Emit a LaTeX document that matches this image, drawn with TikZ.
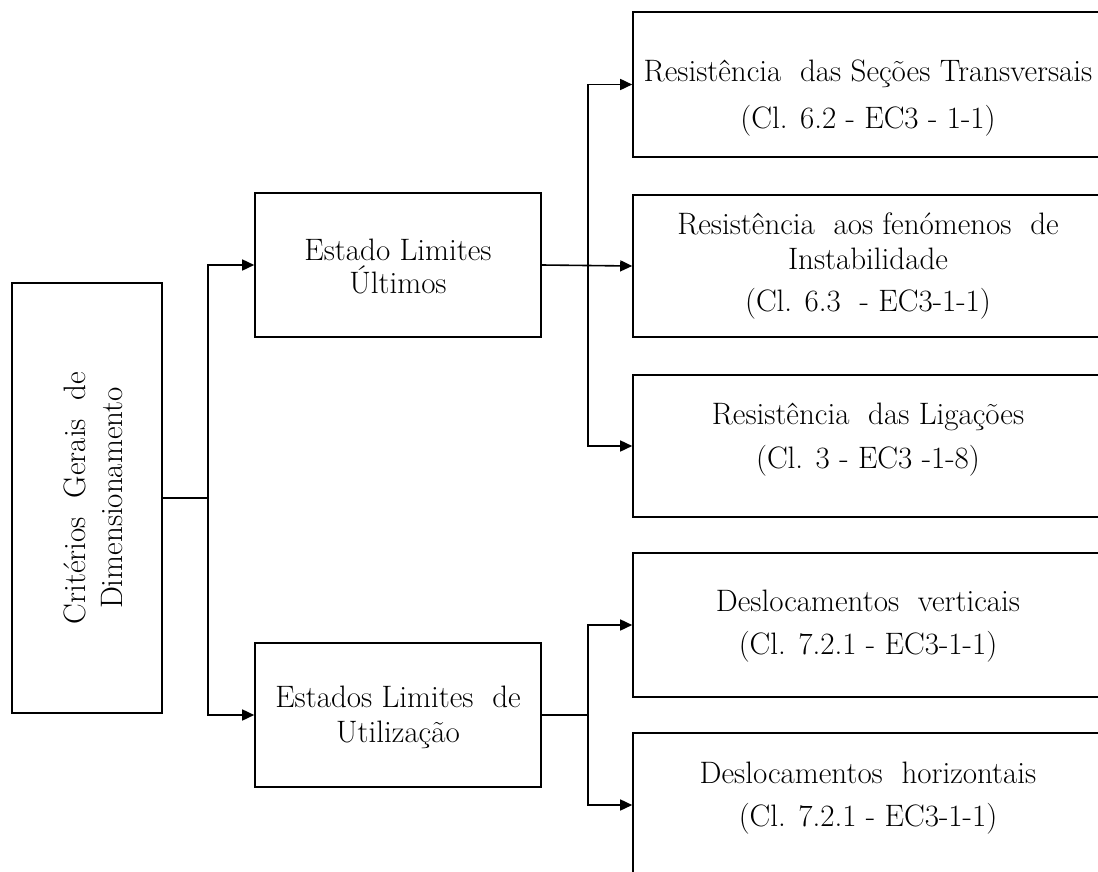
\documentclass[tikz,border=0pt]{standalone}
\usetikzlibrary{arrows.meta}
\begin{document}
\begin{tikzpicture}[x=1pt,y=-1pt,
  box/.style={draw,line width=1.6pt,rectangle,inner sep=0pt},
  txt/.style={align=center,font=\fontsize{31}{36}\selectfont,inner sep=0pt},
  link/.style={line width=1.6pt},
  arr/.style={link,-{Triangle[length=12pt,width=11pt]}}]
\useasboundingbox (0,0) rectangle (1098,872);
\clip (0,0) rectangle (1098,872);

% main boxes
\node[box,minimum width=150pt,minimum height=430pt] (crit) at (87,498) {};
\node[box,minimum width=286pt,minimum height=144pt] (elu) at (398,265) {};
\node[box,minimum width=286pt,minimum height=144pt] (els) at (398,715) {};
% right column of verification boxes
\node[box,minimum width=470pt,minimum height=145pt] (r1) at (868,84.5) {};
\node[box,minimum width=470pt,minimum height=142pt] (r2) at (868,266) {};
\node[box,minimum width=470pt,minimum height=142pt] (r3) at (868,446) {};
\node[box,minimum width=470pt,minimum height=144pt] (r4) at (868,625) {};
\node[box,minimum width=470pt,minimum height=144pt] (r5) at (868,805) {};

% texts
\node[txt,rotate=90] (tcrit) at (93,498) {Critérios\ \ Gerais\ \ de\\[1pt]Dimensionamento};
\node[txt] (telu) at (398,266) {Estado Limites\\[-3pt]Últimos};
\node[txt] (tels) at (398,717) {Estados Limites\ \ de\\[-1pt]Utilização};
\node[txt] (t1) at (868,98) {Resistência\ \ das Seções Transversais\\[11pt](Cl. 6.2 - EC3 - 1-1)};
\node[txt] (t2) at (868,266) {Resistência\ \ aos fenómenos\ \ de\\[-1pt]Instabilidade\\[6pt](Cl. 6.3\ \ - EC3-1-1)};
\node[txt] (t3) at (868,440) {Resistência\ \ das Ligações\\[8pt](Cl. 3 - EC3 -1-8)};
\node[txt] (t4) at (868,626) {Deslocamentos\ \ verticais\\[7pt](Cl. 7.2.1 - EC3-1-1)};
\node[txt] (t5) at (868,798) {Deslocamentos\ \ horizontais\\[7pt](Cl. 7.2.1 - EC3-1-1)};

% connectors
\coordinate (j1) at (208,498);
\coordinate (j2) at (588,265);
\coordinate (j3) at (588,715);
\draw[link] (crit.east) -- (j1);
\draw[arr] (j1) |- (elu.west);
\draw[arr] (j1) |- (els.west);
\draw[arr] (elu.east) -- (r2.west);
\draw[arr] (j2) |- (r1.west);
\draw[arr] (j2) |- (r3.west);
\draw[link] (els.east) -- (j3);
\draw[arr] (j3) |- (r4.west);
\draw[arr] (j3) |- (r5.west);
\end{tikzpicture}
\end{document}
